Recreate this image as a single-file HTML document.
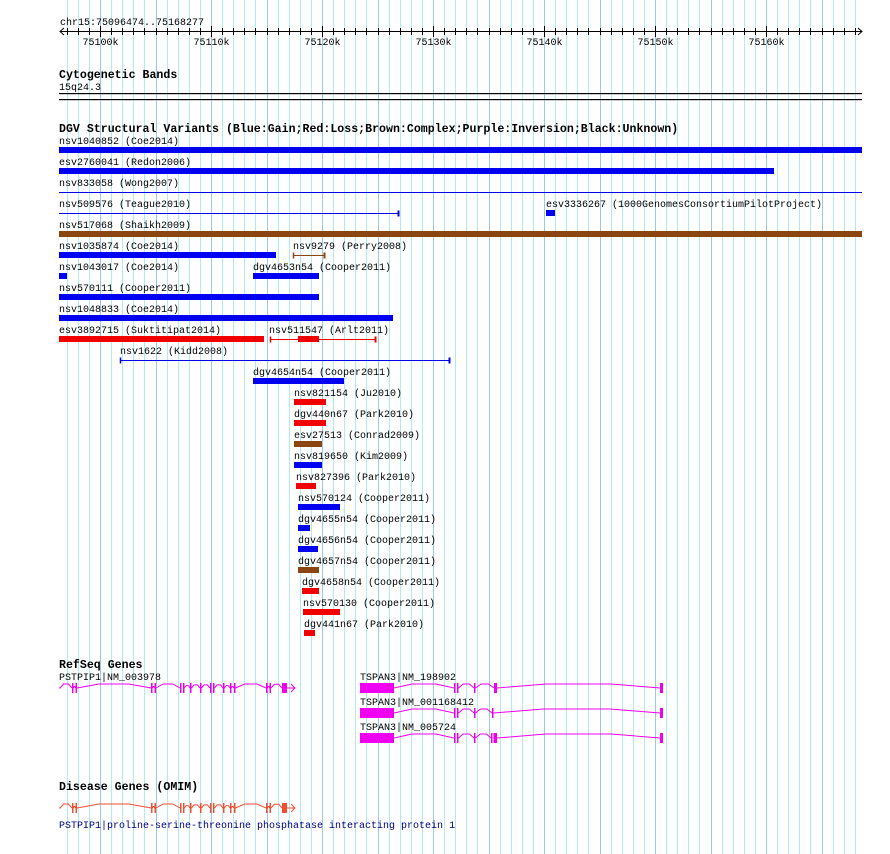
<!DOCTYPE html>
<html><head><meta charset="utf-8"><style>
html,body{margin:0;padding:0;background:#fff;}
svg{display:block;}
text{font-family:"Liberation Mono",monospace;font-size:10px;fill:#000;}
.b{font-weight:bold;font-size:11.6px;}
</style></head><body>
<svg id="s" width="890" height="854" xmlns="http://www.w3.org/2000/svg">
<g id="grid"></g>
<g id="main"></g>
</svg>
<script>
var NS="http://www.w3.org/2000/svg",g=document.getElementById('grid'),m=document.getElementById('main');
function el(p,tag,a,t){var e=document.createElementNS(NS,tag);for(var k in a)e.setAttribute(k,a[k]);if(t)e.textContent=t;p.appendChild(e);return e;}
var px=11.1;
for(var i=-4;i<=69;i++){var x=Math.round(100+i*px)+0.5;if(x<59||x>862)continue;
 var major=(i%10==0)||(i%5==0);
 el(g,'line',{x1:x,x2:x,y1:0,y2:854,stroke:major?'#9ac8ec':'#b0eaf2','stroke-width':1});}
// ruler
el(m,'text',{x:60,y:25},'chr15:75096474..75168277');
el(m,'line',{x1:60,x2:862,y1:31.5,y2:31.5,stroke:'#000'});
el(m,'polyline',{points:'64,28 60,31.5 64,35',fill:'none',stroke:'#000'});
el(m,'polyline',{points:'858,28 862,31.5 858,35',fill:'none',stroke:'#000'});
for(var i=-3;i<=68;i++){var x=Math.round(100+i*px)+0.5;if(x<62||x>860)continue;
 var big=i%10==0;el(m,'line',{x1:x,x2:x,y1:big?26:28,y2:big?37:35,stroke:'#000'});
 if(big)el(m,'text',{x:x-18,y:45},(75100+i)+'k');}
el(m,'text',{x:59,y:78,class:'b'},'Cytogenetic Bands');
el(m,'text',{x:59,y:90},'15q24.3');
el(m,'rect',{x:59,y:93,width:803,height:1.2,fill:'#000'});
el(m,'rect',{x:59,y:99,width:803,height:1.2,fill:'#000'});
el(m,'text',{x:59,y:132,class:'b'},'DGV Structural Variants (Blue:Gain;Red:Loss;Brown:Complex;Purple:Inversion;Black:Unknown)');
var B='#0000f0',R='#f00000',N='#8b4513';
// [labelx,labely,text,type,x1,x2,color,(inner)]
var rows=[
[59,144,'nsv1040852 (Coe2014)','bar',59,862,B],
[59,165,'esv2760041 (Redon2006)','bar',59,774,B],
[59,186,'nsv833058 (Wong2007)','line',59,862,B],
[59,207,'nsv509576 (Teague2010)','tline',59,399,B],
[546,207,'esv3336267 (1000GenomesConsortiumPilotProject)','bar',546,555,B],
[59,228,'nsv517068 (Shaikh2009)','bar',59,862,N],
[59,249,'nsv1035874 (Coe2014)','bar',59,276,B],
[293,249,'nsv9279 (Perry2008)','tline2',293,325,N],
[59,270,'nsv1043017 (Coe2014)','bar',59,67,B],
[253,270,'dgv4653n54 (Cooper2011)','bar',253,319,B],
[59,291,'nsv570111 (Cooper2011)','bar',59,319,B],
[59,312,'nsv1048833 (Coe2014)','bar',59,393,B],
[59,333,'esv3892715 (Suktitipat2014)','bar',59,264,R],
[269,333,'nsv511547 (Arlt2011)','tline2',270,376,R,[298,319]],
[120,354,'nsv1622 (Kidd2008)','tline2',120,450,B],
[253,375,'dgv4654n54 (Cooper2011)','bar',253,344,B],
[294,396,'nsv821154 (Ju2010)','bar',294,326,R],
[294,417,'dgv440n67 (Park2010)','bar',294,326,R],
[294,438,'esv27513 (Conrad2009)','bar',294,322,N],
[294,459,'nsv819650 (Kim2009)','bar',294,322,B],
[296,480,'nsv827396 (Park2010)','bar',296,316,R],
[298,501,'nsv570124 (Cooper2011)','bar',298,340,B],
[298,522,'dgv4655n54 (Cooper2011)','bar',298,310,B],
[298,543,'dgv4656n54 (Cooper2011)','bar',298,318,B],
[298,564,'dgv4657n54 (Cooper2011)','bar',298,319,N],
[302,585,'dgv4658n54 (Cooper2011)','bar',302,319,R],
[303,606,'nsv570130 (Cooper2011)','bar',303,340,R],
[304,627,'dgv441n67 (Park2010)','bar',304,315,R]];
rows.forEach(function(r){
 el(m,'text',{x:r[0],y:r[1]},r[2]);var y=r[1]+3;
 if(r[3]=='bar')el(m,'rect',{x:r[4],y:y,width:r[5]-r[4],height:6,fill:r[6]});
 else{var ly=y+3.5;el(m,'line',{x1:r[4],x2:r[5],y1:ly,y2:ly,stroke:r[6]});
  if(r[3]!='line'){el(m,'line',{x1:r[5]-0.5,x2:r[5]-0.5,y1:ly-3,y2:ly+3,stroke:r[6],'stroke-width':2});}
  if(r[3]=='tline2'){el(m,'line',{x1:r[4]+0.5,x2:r[4]+0.5,y1:ly-3,y2:ly+3,stroke:r[6],'stroke-width':1.5});}
  if(r[7])el(m,'rect',{x:r[7][0],y:y,width:r[7][1]-r[7][0],height:6,fill:r[6]});}
});
el(m,'text',{x:59,y:668,class:'b'},'RefSeq Genes');
function gene(y,exons,col,arrow){
 var xs=exons.slice().sort(function(a,b){return a[0]-b[0]});
 for(var i=0;i<xs.length-1;i++){var a=xs[i][1],b=xs[i+1][0];if(b-a<2)continue;var mid=(a+b)/2;
  var h=Math.min(4,(b-a)/4+1);
  el(m,'polyline',{points:a+','+y+' '+(a+ (b-a)*0.3)+','+(y-h)+' '+(b-(b-a)*0.3)+','+(y-h)+' '+b+','+y,fill:'none',stroke:col});}
 xs.forEach(function(e){var h=e[2]||5;el(m,'rect',{x:e[0],y:y-h,width:Math.max(1.5,e[1]-e[0]),height:2*h,fill:col});});
 if(arrow){var l=xs[xs.length-1][1];el(m,'line',{x1:l,x2:arrow,y1:y,y2:y,stroke:col});
  el(m,'polyline',{points:(arrow-4)+','+(y-4)+' '+arrow+','+y+' '+(arrow-4)+','+(y+4),fill:'none',stroke:col});}
}
var ps=[[59,60,0.5],[72,73.5],[75.5,77],[151,152.5],[154.5,156],[180,181.5],[183,184.5],[190,191.5],[200,201.5],[210,211.5],[213,214.5],[223,224.5],[230,231.5],[234,235.5],[266,267.5],[269.5,271],[282,287]];
el(m,'text',{x:59,y:680},'PSTPIP1|NM_003978');
gene(688,ps,'#f000f0',295);
var t1=[[360,394],[454,455.5],[457,458.5],[474,475.5],[494,497],[660,663]];
var t2=[[360,394],[454,455.5],[457,458.5],[474,475.5],[492,493.5],[660,663]];
var t3=[[360,394],[454,455.5],[457,458.5],[474,475.5],[491,492.5],[493.5,497],[660,663]];
el(m,'text',{x:360,y:680},'TSPAN3|NM_198902');gene(688,t1,'#f000f0');
el(m,'text',{x:360,y:705},'TSPAN3|NM_001168412');gene(713,t2,'#f000f0');
el(m,'text',{x:360,y:730},'TSPAN3|NM_005724');gene(738,t3,'#f000f0');
el(m,'text',{x:59,y:790,class:'b'},'Disease Genes (OMIM)');
gene(808,ps,'#f05030',295);
el(m,'text',{x:59,y:828,style:'fill:#000080'},'PSTPIP1|proline-serine-threonine phosphatase interacting protein 1');
</script>
</body></html>
